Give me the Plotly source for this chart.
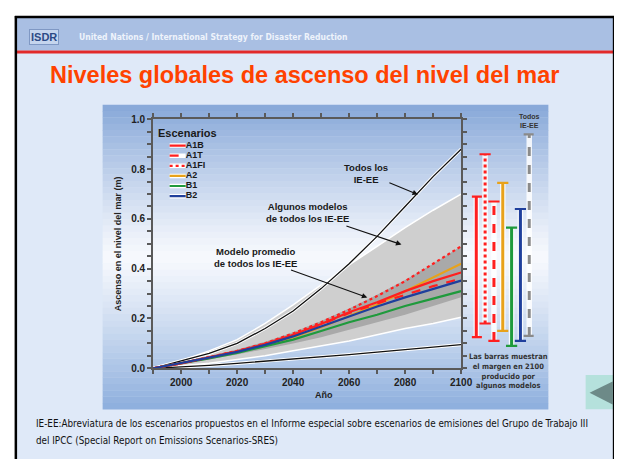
import plotly.graph_objects as go

# ---------------- data ----------------
years = [1990, 2000, 2010, 2020, 2030, 2040, 2050, 2060, 2070, 2080, 2090, 2100]

# envelope of all SRES scenarios (black lines)
all_sres_high = [0, 0.03, 0.06, 0.10, 0.16, 0.23, 0.32, 0.42, 0.53, 0.65, 0.77, 0.88]
all_sres_low = [0, 0.005, 0.012, 0.02, 0.028, 0.036, 0.045, 0.055, 0.065, 0.075, 0.085, 0.095]
# range of all models, all SRES (light grey)
models_high = [0, 0.03, 0.07, 0.115, 0.18, 0.255, 0.335, 0.415, 0.49, 0.565, 0.635, 0.70]
models_low = [0, 0.01, 0.02, 0.035, 0.05, 0.07, 0.09, 0.11, 0.135, 0.16, 0.18, 0.205]
# range of model average, all SRES (dark grey)
mean_high = [0, 0.022, 0.048, 0.075, 0.107, 0.145, 0.19, 0.24, 0.295, 0.355, 0.42, 0.49]
mean_low = [0, 0.017, 0.036, 0.055, 0.076, 0.10, 0.125, 0.155, 0.185, 0.215, 0.25, 0.285]

# scenario means
A1B = [0, 0.02, 0.044, 0.068, 0.098, 0.135, 0.178, 0.225, 0.265, 0.31, 0.35, 0.385]
A1T = [0, 0.02, 0.044, 0.068, 0.098, 0.134, 0.176, 0.222, 0.26, 0.295, 0.33, 0.36]
A1FI = [0, 0.02, 0.045, 0.07, 0.10, 0.14, 0.185, 0.235, 0.29, 0.35, 0.42, 0.49]
A2 = [0, 0.02, 0.043, 0.066, 0.093, 0.125, 0.165, 0.21, 0.255, 0.31, 0.365, 0.42]
B1 = [0, 0.019, 0.04, 0.062, 0.087, 0.115, 0.15, 0.185, 0.215, 0.25, 0.28, 0.31]
B2 = [0, 0.02, 0.043, 0.066, 0.094, 0.128, 0.168, 0.21, 0.248, 0.285, 0.32, 0.352]

scenario_names = ["A1B", "A1T", "A1FI", "A2", "B1", "B2"]

# 2100 ranges (bars on the right)
bar_cats = ["A1B", "A1FI", "A1T", "A2", "B1", "B2", "Todos IE-EE"]
bar_low = [0.125, 0.18, 0.11, 0.15, 0.09, 0.11, 0.13]
bar_high = [0.69, 0.86, 0.67, 0.745, 0.565, 0.64, 0.94]

yticks = [0.0, 0.2, 0.4, 0.6, 0.8, 1.0]
xticks = [2000, 2020, 2040, 2060, 2080, 2100]

# ---------------- styles ----------------
RED = "#ff1f1f"
ORANGE = "#e8a21a"
GREEN = "#1f9a3c"
BLUE = "#1f3f9c"
GREY = "#8a8a8a"
style = {
    "A1B": (RED, "solid"),
    "A1T": (RED, "dash"),
    "A1FI": (RED, "dot"),
    "A2": (ORANGE, "solid"),
    "B1": (GREEN, "solid"),
    "B2": (BLUE, "solid"),
    "Todos IE-EE": (GREY, "dash"),
}
series = {"A1B": A1B, "A1T": A1T, "A1FI": A1FI, "A2": A2, "B1": B1, "B2": B2}

W, H = 622, 459
def px(x):
    return x / W
def py(y):
    return 1 - y / H

FONT = "Liberation Sans, Arial, sans-serif"
NARROW = "Liberation Sans Narrow, Arial Narrow, DejaVu Sans Condensed, sans-serif"

fig = go.Figure()

# light grey envelope
fig.add_trace(go.Scatter(x=years, y=models_low, mode="lines",
                         line=dict(color="white", width=1.5), hoverinfo="skip"))
fig.add_trace(go.Scatter(x=years, y=models_high, mode="lines", fill="tonexty",
                         fillcolor="#cfcfcf", line=dict(color="white", width=1.5),
                         hoverinfo="skip"))
# dark grey envelope
fig.add_trace(go.Scatter(x=years, y=mean_low, mode="lines",
                         line=dict(color="#aaaaaa", width=0), hoverinfo="skip"))
fig.add_trace(go.Scatter(x=years, y=mean_high, mode="lines", fill="tonexty",
                         fillcolor="#a9a9a9", line=dict(color="#a9a9a9", width=0),
                         hoverinfo="skip"))
# black envelope lines
for arr in (all_sres_high, all_sres_low):
    fig.add_trace(go.Scatter(x=years, y=arr, mode="lines",
                             line=dict(color="white", width=3.2), hoverinfo="skip"))
    fig.add_trace(go.Scatter(x=years, y=arr, mode="lines",
                             line=dict(color="#111111", width=1.3), hoverinfo="skip"))

# scenario means
for name in ["A1FI", "A2", "B1", "A1T", "A1B", "B2"]:
    c, d = style[name]
    fig.add_trace(go.Scatter(x=years, y=series[name], mode="lines", name=name,
                             line=dict(color=c, width=2.2, dash=d)))

# bars at 2100
for cat, lo, hi in zip(bar_cats, bar_low, bar_high):
    c, d = style[cat]
    fig.add_trace(go.Scatter(x=[cat, cat], y=[lo, hi], mode="lines", xaxis="x2", yaxis="y",
                             line=dict(color="rgba(255,255,255,0.85)", width=5.5),
                             hoverinfo="skip"))
    fig.add_trace(go.Scatter(x=[cat, cat], y=[lo, hi], mode="lines+markers",
                             xaxis="x2", yaxis="y",
                             line=dict(color=c, width=3, dash=d),
                             marker=dict(symbol="line-ew", size=8,
                                         line=dict(color=c, width=2.2)),
                             hoverinfo="skip"))

# legend swatches on an auxiliary hidden axis
for name in scenario_names:
    c, d = style[name]
    fig.add_trace(go.Scatter(x=[0, 1], y=[name, name], mode="lines", xaxis="x3", yaxis="y3",
                             line=dict(color="white", width=4.5), hoverinfo="skip"))
    fig.add_trace(go.Scatter(x=[0, 1], y=[name, name], mode="lines+text", xaxis="x3",
                             yaxis="y3", text=["", name], textposition="middle right",
                             textfont=dict(family=FONT, size=9, color="#1a1a1a", weight="bold"),
                             line=dict(color=c, width=2.2, dash=d), hoverinfo="skip",
                             cliponaxis=False))

# ---------------- decoration shapes ----------------
shapes = []
# slide background
shapes.append(dict(type="rect", xref="paper", yref="paper", x0=px(8), x1=px(618),
                   y0=0, y1=py(4), fillcolor="#dfe9f8", line=dict(width=0), layer="below"))
# header band
shapes.append(dict(type="rect", xref="paper", yref="paper", x0=px(8), x1=px(617),
                   y0=py(38.5), y1=py(5), fillcolor="#a9bfe3", line=dict(width=0), layer="below"))
shapes.append(dict(type="rect", xref="paper", yref="paper", x0=px(8), x1=px(617),
                   y0=py(41.5), y1=py(38.5), fillcolor="#e22a2a", line=dict(width=0), layer="below"))
# panel gradient
top_c = (134, 167, 216)
mid_c = (247, 249, 253)
bot_c = (140, 174, 221)
y_top, y_bot = 94.0, 406.0
n = 48
for i in range(n):
    a = y_top + (y_bot - y_top) * i / n
    b = y_top + (y_bot - y_top) * (i + 1) / n
    m = (a + b) / 2
    mid = (y_top + y_bot) / 2
    t = abs(m - mid) / ((y_bot - y_top) / 2)
    t = min(1.0, t ** 1.15)
    end = top_c if m < mid else bot_c
    col = tuple(int(round(mid_c[k] + (end[k] - mid_c[k]) * t)) for k in range(3))
    shapes.append(dict(type="rect", xref="paper", yref="paper", x0=px(96.5), x1=px(551),
                       y0=py(b + 0.3), y1=py(a), fillcolor="rgb(%d,%d,%d)" % col,
                       line=dict(width=0), layer="below"))
# arrow button
shapes.append(dict(type="rect", xref="paper", yref="paper", x0=px(589), x1=px(617),
                   y0=py(406), y1=py(371), fillcolor="#b5e1dc", line=dict(width=0), layer="below"))
shapes.append(dict(type="path", xref="paper", yref="paper",
                   path="M %f %f L %f %f L %f %f Z" % (px(616.5), py(377.5), px(593), py(389),
                                                      px(616.5), py(401)),
                   fillcolor="#6d8a88", line=dict(width=0), layer="below"))
# black slide border
shapes.append(dict(type="line", xref="paper", yref="paper", x0=px(8), x1=px(8),
                   y0=0, y1=py(3), line=dict(color="black", width=2.5)))
shapes.append(dict(type="line", xref="paper", yref="paper", x0=px(7), x1=px(619),
                   y0=py(4), y1=py(4), line=dict(color="black", width=2.5)))
shapes.append(dict(type="line", xref="paper", yref="paper", x0=px(618), x1=px(618),
                   y0=0, y1=py(3), line=dict(color="black", width=2.5)))

# ---------------- annotations ----------------
ann = []
ann.append(dict(xref="paper", yref="paper", x=px(21), y=py(25), xanchor="left", yanchor="middle",
                text="<b>ISDR</b>", showarrow=False, bgcolor="#c5d5ee", bordercolor="#7f98c4",
                borderwidth=1, borderpad=1,
                font=dict(family=FONT, size=11, color="#2b4a86")))
ann.append(dict(xref="paper", yref="paper", x=px(70), y=py(25), xanchor="left", yanchor="middle",
                text="<b>United Nations / International Strategy for Disaster Reduction</b>",
                showarrow=False, font=dict(family=NARROW, size=8.5, color="#eef3fb")))
ann.append(dict(xref="paper", yref="paper", x=px(302), y=py(64), xanchor="center",
                yanchor="middle", text="<b>Niveles globales de ascenso del nivel del mar</b>",
                showarrow=False, font=dict(family=FONT, size=23.5, color="#ff4200")))
ann.append(dict(xref="paper", yref="paper", x=px(27), y=py(421), xanchor="left",
                yanchor="middle",
                text="IE-EE:Abreviatura de los escenarios propuestos en el Informe especial sobre "
                     "escenarios de emisiones del Grupo de Trabajo III",
                showarrow=False, font=dict(family=NARROW, size=9.8, color="#111111")))
ann.append(dict(xref="paper", yref="paper", x=px(27), y=py(438), xanchor="left",
                yanchor="middle",
                text="del IPCC (Special Report on Emissions Scenarios-SRES)",
                showarrow=False, font=dict(family=NARROW, size=9.8, color="#111111")))
# axis titles
ann.append(dict(xref="paper", yref="paper", x=px(113), y=py(236), xanchor="center",
                yanchor="middle", textangle=-90, text="<b>Ascenso en el nivel del mar (m)</b>",
                showarrow=False, font=dict(family=FONT, size=9, color="#222222")))
ann.append(dict(xref="paper", yref="paper", x=px(322), y=py(391), xanchor="center",
                yanchor="middle", text="<b>Año</b>",
                showarrow=False, font=dict(family=FONT, size=9, color="#222222")))
# legend title
ann.append(dict(xref="paper", yref="paper", x=px(151), y=py(123), xanchor="left",
                yanchor="middle", text="<b>Escenarios</b>",
                showarrow=False, font=dict(family=FONT, size=11, color="#1a1a1a")))
# callouts with arrows (data coordinates)
callouts = [
    ("Todos los<br>IE-EE", 2084.6, 0.698, 2066.0, 0.784),
    ("Algunos modelos<br>de todos los IE-EE", 2078.7, 0.497, 2045.3, 0.624),
    ("Modelo promedio<br>de todos los IE-EE", 2066.5, 0.284, 2026.4, 0.447),
]
for txt, hx, hy, tx, ty in callouts:
    ann.append(dict(xref="x", yref="y", x=hx, y=hy, axref="x", ayref="y", ax=tx, ay=ty,
                    text="<b>" + txt + "</b>", showarrow=True, arrowhead=2, arrowsize=1,
                    arrowwidth=1.1, arrowcolor="#111111",
                    font=dict(family=FONT, size=9.5, color="#1a1a1a")))
# bar labels
ann.append(dict(xref="x2", yref="y", x=bar_cats[-1], y=bar_high[-1], yanchor="bottom",
                yshift=3, text="<b>Todos<br>IE-EE</b>", showarrow=False,
                font=dict(family=FONT, size=7, color="#333333")))
ann.append(dict(xref="paper", yref="paper", x=px(510), y=py(367), xanchor="center",
                yanchor="middle",
                text="<b>Las barras muestran<br>el margen en 2100<br>producido por<br>algunos modelos</b>",
                showarrow=False, font=dict(family=NARROW, size=7.5, color="#333333")))

axis_common = dict(showline=True, linecolor="#5a5a5a", linewidth=2, mirror="ticks",
                   ticks="outside", ticklen=4, tickwidth=1.5, tickcolor="#5a5a5a",
                   showgrid=False, zeroline=False,
                   tickfont=dict(family=FONT, size=10, color="#222222", weight="bold"))

fig.update_layout(
    width=W, height=H, autosize=False,
    margin=dict(l=0, r=0, t=0, b=0),
    paper_bgcolor="white", plot_bgcolor="rgba(0,0,0,0)",
    showlegend=False,
    xaxis=dict(domain=[px(148), px(462)], range=[1990, 2100], tickvals=xticks,
               minor=dict(dtick=10, ticks="outside", ticklen=4, tickwidth=1.5,
                          tickcolor="#5a5a5a"),
               anchor="y", **axis_common),
    yaxis=dict(domain=[py(364), py(109)], range=[0, 1], tickvals=yticks, tickformat=".1f",
               minor=dict(dtick=0.05, ticks="outside", ticklen=4, tickwidth=1.5,
                          tickcolor="#5a5a5a"),
               anchor="x", **axis_common),
    xaxis2=dict(domain=[px(473), px(536)], type="category", categoryorder="array",
                categoryarray=bar_cats, range=[-0.5, 6.5], visible=False, anchor="y"),
    xaxis3=dict(domain=[px(164), px(182)], range=[-0.05, 1.05], visible=False, anchor="y3"),
    yaxis3=dict(domain=[py(190.5), py(133)], type="category", categoryorder="array",
                categoryarray=scenario_names, autorange="reversed", visible=False,
                anchor="x3"),
    shapes=shapes,
    annotations=ann,
)

fig.write_html("out.html", config={"displayModeBar": False})
